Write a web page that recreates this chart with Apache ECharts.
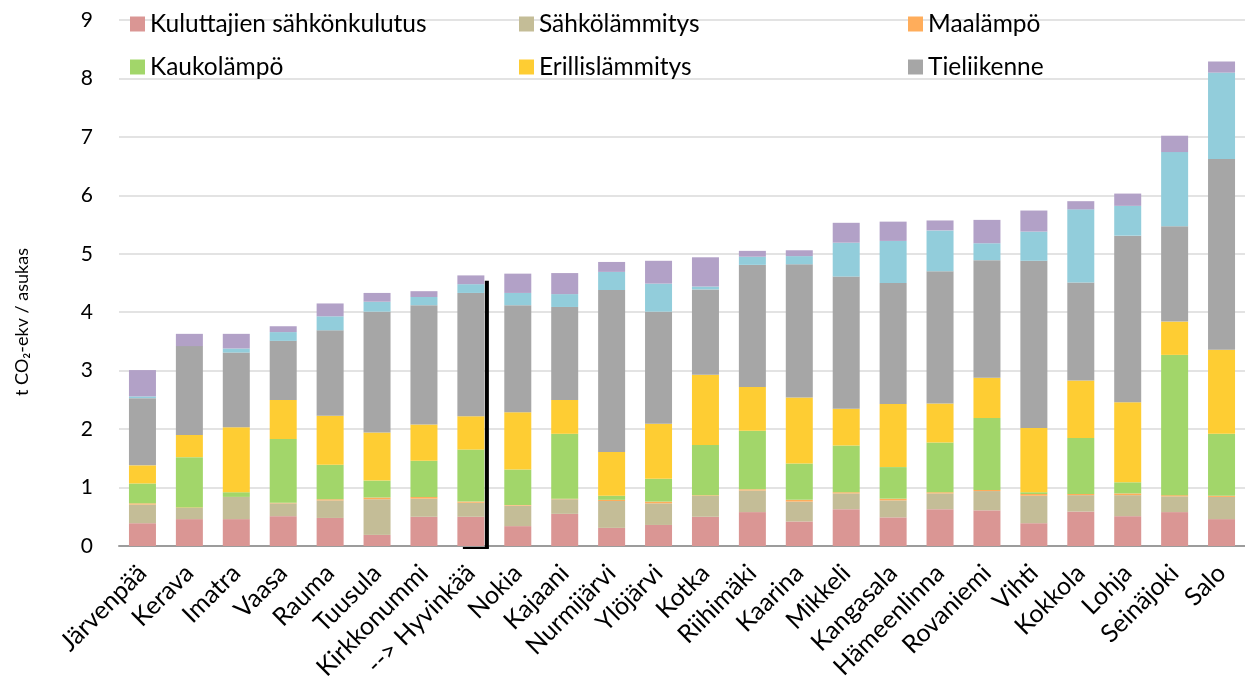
<!DOCTYPE html>
<html>
<head>
<meta charset="utf-8">
<script src="https://cdn.jsdelivr.net/npm/echarts@6/dist/echarts.min.js"></script>
<style>
  html, body { margin: 0; padding: 0; background: #fff; }
  #chart { width: 1245px; height: 684px; }
</style>
</head>
<body>
<div id="chart"></div>
<script>
// kunnat
var cities = ['Järvenpää', 'Kerava', 'Imatra', 'Vaasa', 'Rauma', 'Tuusula', 'Kirkkonummi', '--> Hyvinkää',
    'Nokia', 'Kajaani', 'Nurmijärvi', 'Ylöjärvi', 'Kotka', 'Riihimäki', 'Kaarina', 'Mikkeli',
    'Kangasala', 'Hämeenlinna', 'Rovaniemi', 'Vihti', 'Kokkola', 'Lohja', 'Seinäjoki', 'Salo'];

// t CO2-ekv / asukas
var sahkonkulutus = [0.39, 0.46, 0.46, 0.51, 0.48, 0.19, 0.50, 0.50, 0.34, 0.55, 0.31, 0.36, 0.50, 0.58, 0.42, 0.63, 0.49, 0.63, 0.61, 0.39, 0.59, 0.51, 0.58, 0.46];
var sahkolammitys = [0.32, 0.19, 0.38, 0.22, 0.30, 0.61, 0.31, 0.24, 0.35, 0.25, 0.46, 0.37, 0.36, 0.37, 0.34, 0.27, 0.29, 0.27, 0.33, 0.47, 0.28, 0.36, 0.27, 0.38];
var maalampo = [0.02, 0.01, 0.00, 0.01, 0.02, 0.03, 0.03, 0.02, 0.01, 0.01, 0.02, 0.03, 0.01, 0.02, 0.03, 0.02, 0.03, 0.02, 0.02, 0.03, 0.02, 0.03, 0.02, 0.02];
var kaukolampo = [0.34, 0.86, 0.08, 1.09, 0.59, 0.29, 0.62, 0.89, 0.61, 1.11, 0.07, 0.39, 0.86, 1.00, 0.62, 0.80, 0.54, 0.85, 1.23, 0.03, 0.96, 0.19, 2.40, 1.06];
var erillislammitys = [0.31, 0.38, 1.11, 0.67, 0.84, 0.82, 0.62, 0.57, 0.98, 0.58, 0.75, 0.94, 1.20, 0.75, 1.13, 0.63, 1.08, 0.67, 0.69, 1.10, 0.98, 1.37, 0.57, 1.44];
var tieliikenne = [1.15, 1.52, 1.28, 1.01, 1.46, 2.07, 2.04, 2.11, 1.83, 1.59, 2.77, 1.92, 1.46, 2.09, 2.28, 2.26, 2.07, 2.26, 2.01, 2.86, 1.68, 2.85, 1.63, 3.26];
var maatalous = [0.03, 0.00, 0.07, 0.15, 0.24, 0.17, 0.14, 0.15, 0.21, 0.22, 0.31, 0.48, 0.05, 0.14, 0.14, 0.58, 0.72, 0.70, 0.29, 0.50, 1.25, 0.51, 1.27, 1.48];
var jatteet = [0.45, 0.21, 0.25, 0.10, 0.22, 0.15, 0.10, 0.15, 0.33, 0.36, 0.17, 0.39, 0.50, 0.10, 0.10, 0.34, 0.33, 0.17, 0.40, 0.36, 0.14, 0.21, 0.28, 0.19];

// musta merkkiviiva Hyvinkään kohdalla
var markerIndex = 7;
var markerTop = 4.54;

var font = 'Lato, "Open Sans", sans-serif';

var seriesDefs = [
    { name: 'Kuluttajien sähkönkulutus', data: sahkonkulutus, color: '#DA9694' },
    { name: 'Sähkölämmitys', data: sahkolammitys, color: '#C4BD97' },
    { name: 'Maalämpö', data: maalampo, color: '#FFAD5B' },
    { name: 'Kaukolämpö', data: kaukolampo, color: '#A2D66A' },
    { name: 'Erillislämmitys', data: erillislammitys, color: '#FECD33' },
    { name: 'Tieliikenne', data: tieliikenne, color: '#A6A6A6' },
    { name: 'Maatalous', data: maatalous, color: '#92CDDB' },
    { name: 'Jätteet', data: jatteet, color: '#B2A1C7' }
];

var series = seriesDefs.map(function (s) {
    return {
        name: s.name,
        type: 'bar',
        stack: 'total',
        barWidth: 27,
        data: s.data,
        itemStyle: { color: s.color },
        emphasis: { disabled: true }
    };
});

series.push({
    type: 'custom',
    name: 'marker',
    silent: true,
    z: 10,
    data: [[markerIndex, markerTop]],
    renderItem: function (params, api) {
        var bottom = api.coord([api.value(0), 0]);
        var top = api.coord([api.value(0), api.value(1)]);
        var half = 13.5;
        var x = bottom[0] + half + 2.5;
        return {
            type: 'group',
            children: [
                { type: 'line', shape: { x1: x, y1: bottom[1] + 2, x2: x, y2: top[1] }, style: { stroke: '#000', lineWidth: 4 } },
                { type: 'line', shape: { x1: bottom[0] - 8, y1: bottom[1] + 2, x2: x + 2, y2: bottom[1] + 2 }, style: { stroke: '#000', lineWidth: 2 } }
            ]
        };
    }
});

// legenda: kaksi riviä, kolme saraketta
var legendPos = [
    { left: 125, top: 6 }, { left: 514, top: 6 }, { left: 903, top: 6 },
    { left: 125, top: 49 }, { left: 514, top: 49 }, { left: 903, top: 49 }
];
var legends = legendPos.map(function (p, i) {
    return {
        left: p.left,
        top: p.top,
        data: [seriesDefs[i].name],
        itemWidth: 15,
        itemHeight: 15,
        itemGap: 0,
        selectedMode: false,
        icon: 'rect',
        textStyle: { fontFamily: font, fontSize: 24.5, lineHeight: 26, color: '#000' }
    };
});

var chart = echarts.init(document.getElementById('chart'));
var option = {
    animation: false,
    backgroundColor: '#fff',
    legend: legends,
    graphic: [{
        type: 'text',
        x: 22,
        y: 322,
        rotation: Math.PI / 2,
        style: {
            text: 't CO₂-ekv / asukas',
            font: '18px ' + font,
            fill: '#000',
            align: 'center',
            verticalAlign: 'middle'
        }
    }],
    grid: { left: 119, right: 0, top: 20, bottom: 138 },
    xAxis: {
        type: 'category',
        data: cities,
        axisTick: { show: false },
        axisLine: { lineStyle: { color: '#9C9C9C', width: 2 } },
        axisLabel: { rotate: 45, interval: 0, fontFamily: font, fontSize: 25, color: '#000', margin: 23, padding: [8, 0, 0, 0] }
    },
    yAxis: {
        type: 'value',
        min: 0,
        max: 9,
        interval: 1,
        axisLabel: { fontFamily: font, fontSize: 21, color: '#000', margin: 26 },
        splitLine: { lineStyle: { color: '#E3E3E3', width: 2 } }
    },
    series: series
};
chart.setOption(option);
</script>
</body>
</html>
